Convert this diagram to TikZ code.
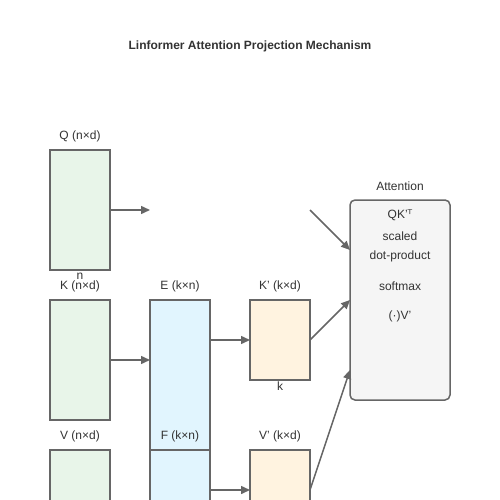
\documentclass[tikz,border=0pt]{standalone}
\usepackage{fontspec}
\setmainfont{Liberation Sans}
\newfontfamily\symfont{DejaVu Sans}
\usetikzlibrary{arrows.meta,calc}
\definecolor{linec}{HTML}{666666}
\definecolor{txtc}{HTML}{333333}
\definecolor{greenf}{HTML}{E8F5E9}
\definecolor{bluef}{HTML}{E1F5FE}
\definecolor{orangef}{HTML}{FFF3E0}
\definecolor{grayf}{HTML}{F5F5F5}
\tikzset{
  mat/.style={draw=linec, line width=1.5pt, minimum width=60pt, inner sep=0pt, outer sep=0pt, anchor=north west},
  lbl/.style={font=\fontsize{12}{14}\selectfont, text=txtc, inner sep=0pt},
  arr/.style={draw=linec, line width=1.5pt, -{Triangle[length=9pt,width=8pt]}},
}
\begin{document}
\begin{tikzpicture}[x=1pt,y=-1pt]
\useasboundingbox (0,0) rectangle (500,500);
\clip (0,0) rectangle (500,500);
\fill[white] (0,0) rectangle (500,500);
\node[lbl, font=\bfseries\fontsize{12}{14}\selectfont] (title) at (250,46) {Linformer Attention Projection Mechanism};
% matrices
\node[mat, fill=greenf, minimum height=120pt] (Q) at (50,150) {};
\node[mat, fill=greenf, minimum height=120pt] (K) at (50,300) {};
\node[mat, fill=bluef, minimum height=230pt] (E) at (150,300) {};
\node[mat, fill=orangef, minimum height=80pt] (Kp) at (250,300) {};
\node[mat, fill=greenf, minimum height=120pt] (V) at (50,450) {};
\node[mat, fill=bluef, minimum height=120pt] (F) at (150,450) {};
\node[mat, fill=orangef, minimum height=80pt] (Vp) at (250,450) {};
\node[draw=linec, line width=1.5pt, fill=grayf, rounded corners=5pt, minimum width=100pt, minimum height=200pt, anchor=north west, inner sep=0pt, outer sep=0pt] (Att) at (350,200) {};
% labels
\node[lbl] (lq) at (80,136) {Q (n×d)};
\node[lbl] (ln) at (80,276) {n};
\node[lbl] (lk) at (80,286) {K (n×d)};
\node[lbl] (le) at (180,286) {E (k×n)};
\node[lbl] (lkp) at (280,286) {K' (k×d)};
\node[lbl] (lkk) at (280,386) {k};
\node[lbl] (lv) at (80,436) {V (n×d)};
\node[lbl] (lf) at (180,436) {F (k×n)};
\node[lbl] (lvp) at (280,436) {V' (k×d)};
\node[lbl] (latt) at (400,186) {Attention};
\node[lbl] (a1) at (400,215) {QK'{\symfont ᵀ}};
\node[lbl] (a2) at (400,236) {scaled};
\node[lbl] (a3) at (400,256) {dot-product};
\node[lbl] (a4) at (400,286) {softmax};
\node[lbl] (a5) at (400,316) {(·)V'};
% connectors
\coordinate (qend) at ($(Q.east)+(40,0)$);
\coordinate (qs2) at (310,210);
\draw[arr] (Q.east) -- (qend);
\draw[arr] (K.east) -- (K.east -| E.west);
\draw[arr] (E.east |- Kp.west) -- (Kp.west);
\draw[arr] (F.east |- Vp.west) -- (Vp.west);
\draw[arr] (qs2) -- ($(Att.north west)!0.25!(Att.south west)$);
\draw[arr] (Kp.east) -- (Att.west);
\draw[arr] (Vp.east) -- ($(Att.north west)!0.85!(Att.south west)$);
\end{tikzpicture}
\end{document}
